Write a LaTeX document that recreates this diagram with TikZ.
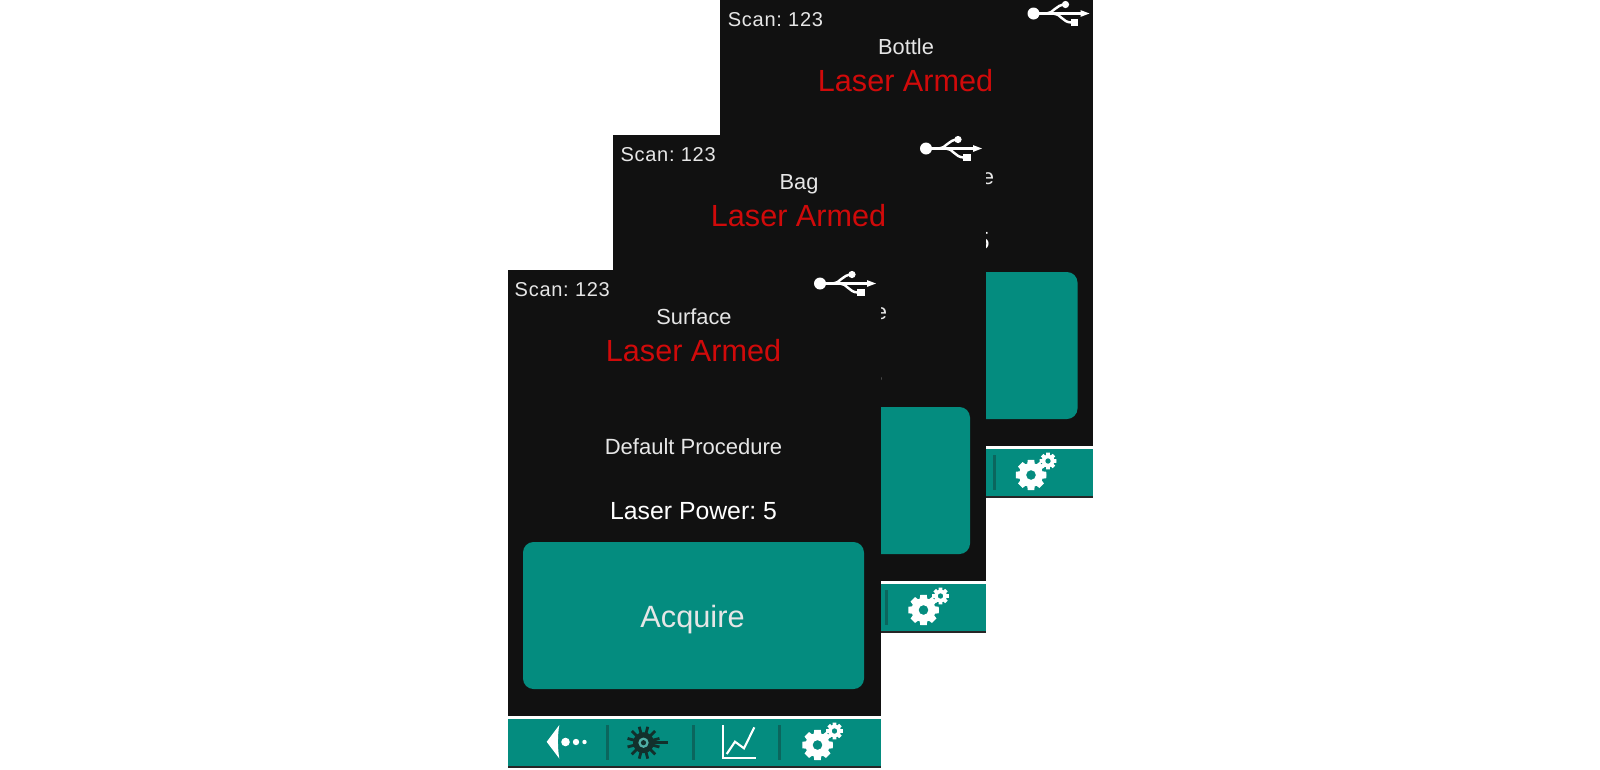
\documentclass[tikz,border=0pt]{standalone}
\usepackage{fontspec}
\setmainfont{Liberation Sans}
\newfontfamily\scanfamily[LetterSpace=3.5]{Liberation Sans}
\usetikzlibrary{positioning}

\definecolor{screenblack}{HTML}{111111}
\definecolor{panelteal}{HTML}{048C7F}
\definecolor{dividerteal}{HTML}{0B665D}
\definecolor{armedred}{HTML}{D00A0A}
\definecolor{softwhite}{HTML}{E6E6E6}
\definecolor{darkicon}{HTML}{12302C}

\frenchspacing

\begin{document}
\begin{tikzpicture}[x=0.01cm,y=-0.01cm]

  % --- styles ---
  \tikzset{
    % texts sit on their baseline, so x,y below are read off the screenshot
    screentext/.style={anchor=base,inner sep=0pt,text=softwhite},
    scanlabel/.style={screentext,anchor=base west,font=\scanfamily\fontsize{5.7pt}{5.7pt}\selectfont},
    modelabel/.style={screentext,font=\fontsize{6.2pt}{6.2pt}\selectfont},
    armedlabel/.style={screentext,text=armedred,font=\fontsize{8.7pt}{8.7pt}\selectfont},
    proclabel/.style={screentext,font=\fontsize{6.26pt}{6.26pt}\selectfont},
    powerlabel/.style={screentext,text=white,font=\fontsize{7.05pt}{7.05pt}\selectfont},
    acquirelabel/.style={screentext,text=softwhite,font=\fontsize{8.75pt}{8.75pt}\selectfont},
    dividerline/.style={draw=dividerteal,line width=0.6pt},
    % --- icons of the status line and the bottom bar ---
    usbicon/.pic={
      \fill[white] (0,0) circle (6);
      \draw[white,line width=0.75pt] (0,0) -- (50,0);
      \fill[white] (47,-3.4) -- (56,0) -- (47,3.4) -- cycle;
      \draw[white,line width=0.7pt] (13,0) .. controls (20,0) and (22,-9) .. (32,-9);
      \fill[white] (32,-9) circle (3.6);
      \draw[white,line width=0.7pt] (20,0) .. controls (27,0) and (29,9) .. (38,9);
      \fill[white] (37,5.3) rectangle (44.5,12.7);
    },
    backicon/.pic={
      \fill[white] (38.7,471.8) -- (51.3,455) .. controls (49.5,465) and (49.5,478) .. (51.3,488.5) -- cycle;
      \fill[white] (57.5,472) circle (4.3);
      \fill[white] (68,472) circle (3.2);
      \fill[white] (76.5,472) circle (2.2);
    },
    lasericon/.pic={
      \foreach \spoke in {0,30,...,330}
        \draw[darkicon,line width=0.8pt] (135.5,472.7) -- ++(\spoke+15:16.5);
      \fill[darkicon] (135.5,472.7) circle (10.5);
      \fill[panelteal!70!white] (135.5,472.7) circle (5.2);
      \fill[darkicon] (135.5,472.7) circle (2.6);
      \draw[darkicon,line width=1pt] (141,472.7) -- (160,472.7);
    },
    charticon/.pic={
      \draw[white,line width=0.65pt] (215,455) -- (215,488) -- (247.7,488);
      \draw[white,line width=0.6pt] (218.7,484) -- (227,471.7) -- (236,478.3) -- (246.3,457.3);
    },
    % big gear with the small one up to its right
    gearicon/.pic={
      \fill[white,even odd rule]
        (0:15.5) -- (12:15.5) -- (18:12)
        \foreach \tooth in {45,90,...,315} {
          -- (\tooth-18:12) -- (\tooth-12:15.5) -- (\tooth+12:15.5) -- (\tooth+18:12)
        } -- (-18:12) -- (-12:15.5) -- cycle
        (0,0) circle (4.9);
      \begin{scope}[shift={(17,-14)}]
        \fill[white,even odd rule]
          (0:8.5) -- (12:8.5) -- (18:6.3)
          \foreach \tooth in {45,90,...,315} {
            -- (\tooth-18:6.3) -- (\tooth-12:8.5) -- (\tooth+12:8.5) -- (\tooth+18:6.3)
          } -- (-18:6.3) -- (-12:8.5) -- cycle
          (0,0) circle (2.8);
      \end{scope}
    },
    % --- one whole screen, #1 is the surface name ---
    screen/.pic={
      \fill[screenblack] (0,0) rectangle (373,498);
      \node[scanlabel] (scan) at (6+0.4*\barshift,26) {Scan: 123};
      \node[modelabel] (mode) at (186,54) {#1};
      \node[armedlabel] (armed) at (185.5,91) {Laser Armed};
      \node[proclabel] (proc) at (185.5,184) {Default Procedure};
      \node[powerlabel] (power) at (185.5+0.3*\barshift,249) {Laser Power: 5};
      \pic at (312+0.5*\barshift,13.5) {usbicon};
      % button
      \fill[panelteal,rounded corners=3pt] (15,272) rectangle (356+0.5*\barshift,419);
      \node[acquirelabel] (acquire) at (184.5,357.5) {Acquire};
      % bottom bar
      \fill[white] (0,446) rectangle (373,449);
      \fill[panelteal] (0,449) rectangle (373,496);
      \fill[black!85] (0,496) rectangle (373,498);
      \pic at (0,0) {backicon};
      \draw[dividerline] (99.5,455) -- (99.5,490);
      \pic at (0,0) {lasericon};
      \draw[dividerline] (185.5,455) -- (185.5,490);
      \pic at (0,0) {charticon};
      \draw[dividerline] (271.5+\barshift,455) -- (271.5+\barshift,490);
      \pic at (309.5+0.5*\barshift,475) {gearicon};
    }
  }

  % --- page ---
  \useasboundingbox[fill=white] (0,0) rectangle (1600,769);

  % --- the three screens, back to front ---
  % the two rear screenshots sit a little to the right inside their frames
  \def\barshift{3}
  \pic (bottle) at (720,0) {screen={Bottle}};
  \def\barshift{2}
  \pic (bag) at (613,135) {screen={Bag}};
  \def\barshift{0}
  \pic (surface) at (508,270) {screen={Surface}};

\end{tikzpicture}
\end{document}
